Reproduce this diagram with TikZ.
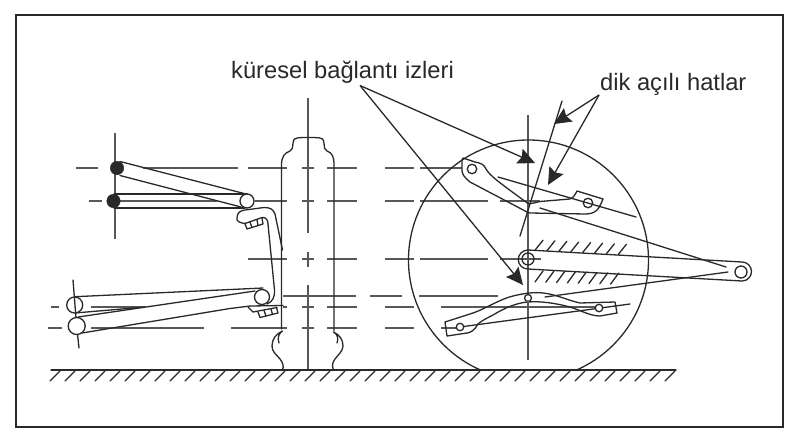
\documentclass[tikz,border=0pt]{standalone}
\usepackage{fontspec}
\setmainfont{Liberation Sans}
\usetikzlibrary{arrows.meta}
\definecolor{ink}{HTML}{2B2829}
\definecolor{axisc}{HTML}{58585A}
\tikzset{
  outline/.style={draw=ink,line width=1.3pt,line join=round,line cap=round},
  axisl/.style={draw=axisc,line width=1.45pt},
  dashl/.style={draw=axisc,line width=1.3pt},
  ball/.style={circle,fill=ink,draw=ink,inner sep=0pt,minimum size=13.5pt},
  joint/.style={circle,fill=white,draw=ink,line width=1.3pt,inner sep=0pt},
  leader/.style={draw=ink,line width=1.3pt},
  leaderhead/.style={leader,-{Stealth[length=17pt,width=16pt,inset=2.5pt]}},
  labeltext/.style={font=\fontsize{23.7pt}{28pt}\selectfont,text=ink,inner sep=0pt,anchor=base west}
}
\begin{document}
\begin{tikzpicture}[x=1pt,y=-1pt]
\useasboundingbox (0,0) rectangle (800,442);
\fill[white] (0,0) rectangle (800,442);
\draw[ink,line width=1.5pt] (16,15) rectangle (783,427);

% dashed horizontal construction lines
\foreach \a/\b in {76/98,143/238,248/287,302/314,327/357,385/414,420/462} \draw[dashl] (\a,168) -- (\b,168);
\foreach \a/\b in {89/102,118/217,255/287,302/314,327/357,385/414,420/488,500/540} \draw[dashl] (\a,201) -- (\b,201);
\foreach \a/\b in {248/287,302/314,327/357,385/414,420/488,500/541} \draw[dashl] (\a,259) -- (\b,259);
\foreach \a/\b in {283/356,370/402,419/498} \draw[dashl] (\a,296) -- (\b,296);
\foreach \a/\b in {51/59,91/145,283/287,302/314,327/357,385/414,441/600} \draw[dashl] (\a,307) -- (\b,307);
\foreach \a/\b in {48/62,91/204,231/287,302/314,327/357,385/414,441/457} \draw[dashl] (\a,328) -- (\b,328);

% axes
\draw[axisl] (115,133) -- (115,239);
\draw[axisl] (308,98) -- (308,233);
\draw[axisl] (308,252) -- (308,267);
\draw[axisl] (308,285) -- (308,370);
\draw[axisl] (528,115) -- (528,360);

% ground
\draw[outline] (51,370) -- (676,370);
\foreach \x in {60,75,...,675} \draw[outline] (\x,371) -- (\x-10,381);

% upper arms, left view
\draw[outline] (120,161.5) -- (246,194);
\draw[outline] (120,175.5) -- (241,207);
\draw[outline] (114,194) -- (247,194);
\draw[outline] (114,208) -- (245,208);
\node[ball] (ub1) at (117,168) {};
\node[ball] (ub2) at (113.5,201) {};
\node[joint,minimum size=14pt] (uj) at (247,201) {};

% lower arms, left view
\draw[outline] (75,296.7) -- (263,288);
\draw[outline] (75,313) -- (145,307);
\draw[outline] (78,317) -- (255,291);
\draw[outline] (82,333) -- (230,308.5) -- (250,306);
\node[joint,minimum size=16pt] (lj1) at (74.7,305) {};
\draw[outline] (73,280) -- (76,318);
\draw[outline] (77.5,334) -- (79,348);
\node[joint,minimum size=17pt] (lj2) at (76.7,326) {};

% upright
\draw[outline] (245,223.5) .. controls (240,223) and (236,221) .. (237,218)
  .. controls (237,213) and (240,210.5) .. (245,210) -- (264,207.5)
  .. controls (270,207.5) and (273,209) .. (275,214) -- (282.5,250);
\draw[outline] (245,223.5) -- (262,217.5) .. controls (266,217) and (268,220) .. (268,224)
  -- (274.5,290) .. controls (275,296) and (273,302) .. (267,304);
\draw[outline] (245,224) -- (247,229) -- (263,224) -- (262,218);
\draw[outline] (250,222) -- (252,227.5) (257,220) -- (258,225.5);
\node[joint,minimum size=15pt] (lj3) at (262,297) {};
\draw[outline] (248,307) -- (253,312) -- (277,307.5);
\draw[outline] (250,306) -- (283,305.5);
\draw[outline] (258,312) -- (260,317.5) -- (278,313) -- (276.5,307.5);
\draw[outline] (264,310.5) -- (266,316) (271,309) -- (272.5,314.5);

% tyre
\draw[outline] (281.5,329) -- (281.5,165) .. controls (281.5,156) and (285,153) .. (290,151)
  .. controls (293,150) and (292.5,147) .. (293,143)
  .. controls (293.5,139) and (295,138) .. (298,137.8)
  .. controls (305,137.3) and (312,137.3) .. (319,137.8)
  .. controls (322,138) and (323.5,139) .. (324,143)
  .. controls (324.5,147) and (324,150) .. (327,151)
  .. controls (332,153) and (334,156) .. (334,165) -- (334,331);
\draw[outline] (279,343) .. controls (277,338) and (279,333) .. (282.5,331)
  .. controls (276,334) and (272,339) .. (272,346)
  .. controls (272,352) and (276,354) .. (280,359)
  .. controls (283,363) and (284,366) .. (282.5,370);
\draw[outline] (337,343) .. controls (339,338) and (337,334) .. (333.5,332)
  .. controls (340,335) and (343,340) .. (343,346)
  .. controls (343,351) and (338,355) .. (335,359)
  .. controls (332,363) and (332,366) .. (333.5,370);

% wheel
\begin{scope}
\clip (400,130) rectangle (660,370);
\draw[outline] (528.5,260) circle (120);
\end{scope}

% upper link, side view
\draw[outline] (463,158) -- (475,162) .. controls (480,163) and (484,164) .. (486,169)
  .. controls (490,176) and (500,183) .. (528,203.5)
  .. controls (530,204) and (534,203) .. (540,201.5) -- (570,199)
  .. controls (573,198) and (575,195) .. (577,191) -- (603,199)
  .. controls (601,204) and (599,208) .. (597,210)
  .. controls (594,213) and (590,214) .. (585,214) -- (530,213)
  -- (528,212.5) -- (470,182) .. controls (464,177) and (462,174) .. (462,170)
  -- (462,160) -- cycle;
\node[joint,minimum size=9.5pt] (h1) at (472,169) {};
\node[joint,minimum size=9.5pt] (h2) at (588,203) {};
\draw[outline] (498,177) -- (636,217);
\draw[outline] (540,208) -- (726,267);
\draw[outline] (562,101) -- (520,236);

% hub arm
\draw[outline] (528,250) -- (742,262) arc (-90:90:9.5) -- (528,269) arc (90:270:9.75 and 9.5);
\node[joint,minimum size=12pt] (h3) at (741,272) {};
\node[circle,draw=ink,line width=1.3pt,inner sep=0pt,minimum size=12pt] (h4) at (528,259) {};
\foreach \i in {0,...,7} {
  \draw[outline] ({535+\i*11.9},{250.2+\i*0.6}) -- ({543+\i*11.9},{240.2+\i*0.6});
  \draw[outline] ({535+\i*10.8},{282+\i*0.3}) -- ({543+\i*10.8},{271+\i*0.3});
}
\draw[outline] (545,297) -- (728,272);

% lower link, side view
\draw[outline] (445,322) -- (473,313) .. controls (485,309) and (500,299) .. (513,296)
  .. controls (525,293) and (535,292) .. (543,293)
  .. controls (555,294) and (570,301) .. (580,303) -- (615,302) -- (617,313) -- (600,316)
  .. controls (590,316) and (580,310) .. (570,307)
  .. controls (555,303) and (540,301) .. (528,302)
  .. controls (515,303) and (503,309) .. (493,315)
  .. controls (485,319) and (480,322) .. (478,324)
  .. controls (475,330) and (470,333) .. (467,333) -- (447,336) -- cycle;
\draw[outline] (460,327) -- (630,304);
\node[joint,minimum size=7pt] (h5) at (528,298) {};
\node[joint,minimum size=7.5pt] (h6) at (460,327) {};
\node[joint,minimum size=7.5pt] (h7) at (599,308) {};
\draw[axisl] (528,301) -- (528,306);

% labels and leaders
\node[labeltext] (kb) at (231,78) {küresel bağlantı izleri};
\node[labeltext] (da) at (600,90) {dik açılı hatlar};
\coordinate (kbs) at (360,85.5);
\coordinate (kt1) at (535,163);
\coordinate (kt2) at (523,285);
\coordinate (das) at (599,95);
\coordinate (dt1) at (554,124);
\coordinate (dt2) at (548,185);
\draw[leaderhead] (kbs) -- (kt1);
\draw[leaderhead] (kbs) -- (kt2);
\draw[leaderhead] (das) -- (dt1);
\draw[leaderhead] (das) -- (dt2);
\end{tikzpicture}
\end{document}
